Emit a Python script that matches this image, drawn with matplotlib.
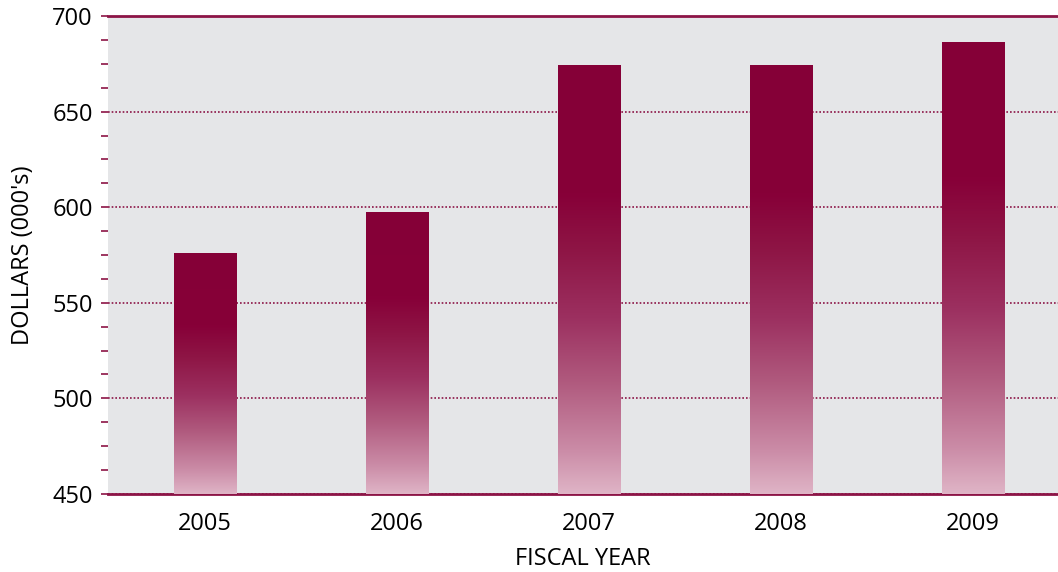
import numpy as np
import matplotlib.pyplot as plt
from matplotlib.colors import LinearSegmentedColormap
from matplotlib.ticker import MultipleLocator

plt.rcParams['font.family'] = ['Open Sans', 'DejaVu Sans']

# data
years = ['2005', '2006', '2007', '2008', '2009']
dollars = [576, 597, 674, 674, 686]

line_red = '#8c1446'
# colour stops measured along a bar, 0 = bottom, 1 = top
bar_cmap = LinearSegmentedColormap.from_list(
    'fade', [(0.0, '#dfb4c6'), (0.10, '#cb8ca7'), (0.26, '#b05a7e'),
             (0.41, '#9c3060'), (0.57, '#8e1545'), (0.70, '#870038'),
             (1.0, '#850037')])

fig = plt.figure(figsize=(10.58, 5.72), dpi=100)
ax = fig.add_axes([0.1021, 0.1364, 0.8979, 0.8356])
ax.set_facecolor('#e5e6e8')

x = np.arange(len(years))
bars = ax.bar(x, dollars, width=0.323, color='none', zorder=3)

# gradient fill for each bar
grad = np.linspace(0, 1, 256).reshape(-1, 1)
for b in bars:
    x0 = b.get_x()
    x1 = x0 + b.get_width()
    ax.imshow(grad, cmap=bar_cmap, origin='lower', aspect='auto',
              extent=(x0, x1, 450, b.get_height()), zorder=3,
              interpolation='bilinear')
ax.set_xlim(-0.505, 4.443)
ax.set_ylim(450, 700)

ax.yaxis.set_major_locator(MultipleLocator(50))
ax.yaxis.set_minor_locator(MultipleLocator(12.5))
ax.grid(axis='y', which='major', color=line_red, linestyle=(0, (1, 1.2)),
        linewidth=1.2, zorder=1)
ax.set_axisbelow(True)

ax.set_xticks(x)
ax.set_xticklabels(years)
ax.tick_params(axis='x', length=0, pad=13, labelsize=17)
ax.tick_params(axis='y', which='major', length=5, width=1.2, color=line_red,
               labelsize=17, pad=6)
ax.tick_params(axis='y', which='minor', length=5, width=1.2, color=line_red)

for s in ['left', 'right']:
    ax.spines[s].set_visible(False)
for s in ['top', 'bottom']:
    ax.spines[s].set_color(line_red)
    ax.spines[s].set_linewidth(2)

ax.set_xlabel('FISCAL YEAR', fontsize=17, labelpad=8)
ax.set_ylabel("DOLLARS (000's)", fontsize=17, labelpad=12)

fig.savefig('out.png', dpi=100)
